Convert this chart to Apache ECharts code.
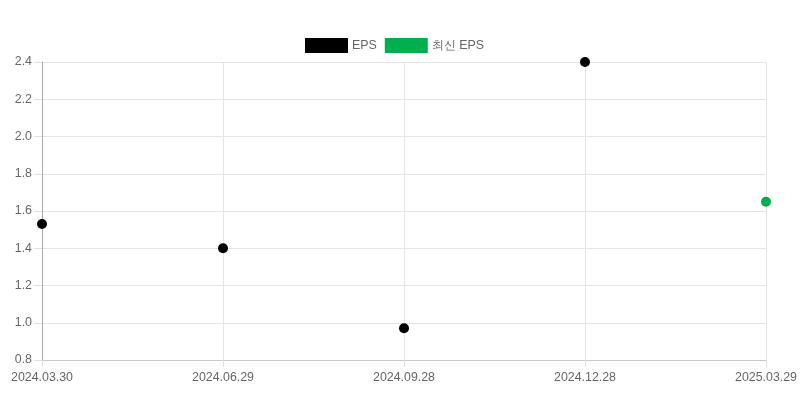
<!DOCTYPE html>
<html>
<head>
<meta charset="utf-8">
<script src="https://cdn.jsdelivr.net/npm/echarts@6/dist/echarts.min.js"></script>
<style>html,body{margin:0;padding:0;background:#fff}#c{width:800px;height:400px}</style>
</head>
<body>
<div id="c"></div>
<script>
const categories = ['2024.03.30', '2024.06.29', '2024.09.28', '2024.12.28', '2025.03.29'];
const epsValues = [1.53, 1.40, 0.97, 2.40, null];
const latestEpsValues = [null, null, null, null, 1.65];
const seriesNames = ['EPS', '최신 EPS'];
const seriesColors = ['#000000', '#00b050'];

const chart = echarts.init(document.getElementById('c'));
const font = 'Liberation Sans, Arial, sans-serif';
chart.setOption({
  animation: false,
  textStyle: { fontFamily: font },
  legend: {
    top: 33,
    left: 300,
    itemWidth: 43,
    itemHeight: 15,
    itemGap: 8,
    icon: 'rect',
    textStyle: { color: '#666', fontSize: 12.4, fontFamily: font, padding: [0, 0, 0, -1] },
    data: seriesNames.map((n, i) => ({ name: n, itemStyle: { color: seriesColors[i] } }))
  },
  grid: { left: 42, right: 34, top: 62, bottom: 40, containLabel: false },
  xAxis: {
    type: 'category',
    data: categories,
    boundaryGap: false,
    axisLine: { lineStyle: { color: '#c8c8c8' } },
    axisTick: { show: true, length: 7, lineStyle: { color: '#e0e0e0' } },
    axisLabel: { color: '#666', fontSize: 12.4, margin: 12, fontFamily: font },
    splitLine: { show: true, lineStyle: { color: '#e5e5e5' } }
  },
  yAxis: {
    type: 'value',
    min: 0.8,
    max: 2.4,
    interval: 0.2,
    axisLine: { show: true, lineStyle: { color: '#aaaaaa' } },
    axisTick: { show: true, length: 8, lineStyle: { color: '#e0e0e0' } },
    axisLabel: { color: '#666', fontSize: 12.4, margin: 10, fontFamily: font, formatter: v => v.toFixed(1) },
    splitLine: { show: true, lineStyle: { color: '#e5e5e5' } }
  },
  series: [
    { name: seriesNames[0], type: 'scatter', data: epsValues, symbolSize: 10, itemStyle: { color: seriesColors[0], opacity: 1 } },
    { name: seriesNames[1], type: 'scatter', data: latestEpsValues, symbolSize: 10, itemStyle: { color: seriesColors[1], opacity: 1 } }
  ]
});
</script>
</body>
</html>
